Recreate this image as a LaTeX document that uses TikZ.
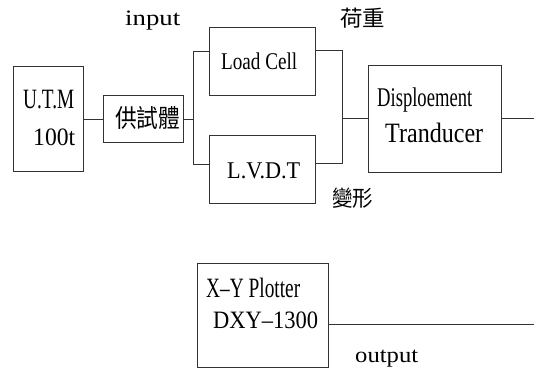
\documentclass[tikz,border=0pt]{standalone}
\usepackage{fontspec}
\setmainfont{Liberation Serif}
\newfontfamily\cjk{Noto Sans CJK TC}
\usepackage{graphicx}
\newcommand\fitw[3]{\resizebox{#1pt}{\height}{\fontsize{#2pt}{#2pt}\selectfont #3}}
\tikzset{
  box/.style={draw=black!80, line width=0.9pt, inner sep=0pt, minimum width=#1},
  wire/.style={draw=black!80, line width=0.9pt},
  lbl/.style={inner sep=0pt, anchor=base west},
  cjklbl/.style={inner sep=0pt, anchor=west, font=\cjk}
}
\begin{document}
\begin{tikzpicture}[x=1pt,y=-1pt]
\useasboundingbox (0,0) rectangle (534,368);
% boxes
\node[box=70pt, minimum height=105pt] (utm) at (48,119) {};
\node[box=80pt, minimum height=47pt] (spec) at (143,119) {};
\node[box=106pt, minimum height=68pt] (load) at (262,61) {};
\node[box=106pt, minimum height=68pt] (lvdt) at (262,169) {};
\node[box=133pt, minimum height=107pt] (disp) at (434.5,118.5) {};
\node[box=131pt, minimum height=104pt] (xy) at (262.5,315) {};
% labels
\node[lbl] (tutm) at (23,108) {\fitw{51}{28}{U.T.M}};
\node[lbl] (tcap) at (33,145) {\fitw{42}{25}{100t}};
\node[cjklbl] (tspec) at (115,118) {\fitw{65}{25}{供試體}};
\node[lbl] (tload) at (221,69) {\fitw{76}{24}{Load Cell}};
\node[lbl] (tlvdt) at (227,178) {\fitw{73}{24}{L.V.D.T}};
\node[lbl] (tdisp) at (377,106) {\fitw{95}{27}{Disploement}};
\node[lbl] (ttran) at (385,142) {\fitw{98}{28}{Tranducer}};
\node[lbl] (txy) at (206,297) {\fitw{94}{28}{X–Y Plotter}};
\node[lbl] (tdxy) at (213,328) {\fitw{105}{25}{DXY–1300}};
\node[lbl] (tin) at (125,25) {\fitw{55}{22}{input}};
\node[lbl] (tout) at (355,362) {\fitw{63}{22}{output}};
\node[cjklbl] (tload2) at (340,18) {\fitw{45}{22}{荷重}};
\node[cjklbl] (tdef) at (332,198) {\fitw{41}{22}{變形}};
% connector points
\coordinate (sp) at (193,119);
\coordinate (sp1) at (193,51);
\coordinate (sp2) at (193,164);
\coordinate (mj) at (342,118);
\coordinate (mj1) at (342,50);
\coordinate (mj2) at (342,163);
\coordinate (o1) at (534,118);
\coordinate (o2) at (534,324);
% connectors
\draw[wire] (utm.east) -- (spec.west);
\draw[wire] (spec.east) -- (sp);
\draw[wire] (sp1 -| load.west) -- (sp1) -- (sp2) -- (sp2 -| lvdt.west);
\draw[wire] (mj1 -| load.east) -- (mj1) -- (mj2) -- (mj2 -| lvdt.east);
\draw[wire] (mj) -- (mj -| disp.west);
\draw[wire] (o1 -| disp.east) -- (o1);
\draw[wire] (o2 -| xy.east) -- (o2);
\end{tikzpicture}
\end{document}
